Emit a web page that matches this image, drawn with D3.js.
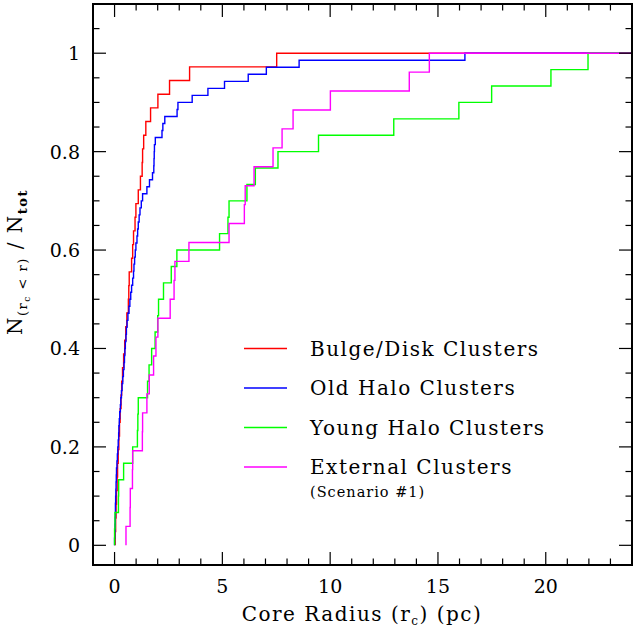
<!DOCTYPE html>
<html>
<head>
<meta charset="utf-8">
<script src="https://cdn.jsdelivr.net/npm/d3@7"></script>
<style>
  body { margin: 0; background: #fff; }
  text { font-family: "DejaVu Serif", serif; fill: #000; }
</style>
</head>
<body>
<div id="chart"></div>
<script>
    // Sorted core radii (pc) for each cluster group
    const bulgeDisk = [0.03, 0.05, 0.07, 0.09, 0.12, 0.14, 0.17, 0.20, 0.23, 0.26,
        0.30, 0.33, 0.37, 0.42, 0.47, 0.52, 0.57, 0.64, 0.66, 0.68,
        0.79, 0.84, 0.88, 0.95, 0.99, 1.10, 1.20, 1.28, 1.30, 1.35,
        1.45, 1.67, 2.01, 2.55, 3.48, 7.52];
    const oldHalo = [0.00, 0.01, 0.02, 0.03, 0.04, 0.04, 0.05, 0.06, 0.07, 0.08,
        0.09, 0.11, 0.13, 0.15, 0.17, 0.19, 0.20, 0.22, 0.24, 0.27,
        0.29, 0.32, 0.35, 0.38, 0.41, 0.44, 0.46, 0.48, 0.50, 0.53,
        0.55, 0.58, 0.62, 0.67, 0.71, 0.75, 0.79, 0.84, 0.88, 0.90,
        0.93, 0.96, 0.99, 1.04, 1.07, 1.10, 1.14, 1.18, 1.24, 1.30,
        1.50, 1.62, 1.76, 1.82, 1.83, 1.84, 1.85, 1.89, 2.20, 2.24,
        2.33, 2.90, 2.94, 3.60, 4.33, 5.10, 6.20, 7.04, 8.56, 16.25];
    const youngHalo = [0.00, 0.02, 0.18, 0.19, 0.42, 0.84, 1.06, 1.08, 1.10, 1.53,
        1.60, 1.72, 1.88, 2.00, 2.04, 2.27, 2.63, 2.89, 4.87, 5.26,
        5.31, 6.14, 6.53, 7.58, 9.46, 12.95, 15.97, 17.49, 20.24, 21.96];
    const external = [0.53, 0.72, 0.73, 0.83, 0.84, 1.29, 1.30, 1.50, 1.61, 1.81,
        1.92, 2.01, 2.58, 2.76, 2.80, 3.45, 5.31, 6.02, 6.06, 6.47,
        7.35, 7.77, 8.28, 10.01, 13.67, 14.60];

    const groupNames = ["Bulge/Disk Clusters", "Old Halo Clusters", "Young Halo Clusters", "External Clusters"];
    const groupColors = ["#ff0000", "#0000ff", "#00ff00", "#ff00ff"];
    const groups = [bulgeDisk, oldHalo, youngHalo, external];

    const xTicks = [0, 5, 10, 15, 20];
    const yTicks = [0, 0.2, 0.4, 0.6, 0.8, 1];

    const W = 633, H = 630;
    const box = {left: 93, right: 632, top: 4, bottom: 565};

    const svg = d3.select("#chart").append("svg")
        .attr("width", W).attr("height", H);

    const x = d3.scaleLinear().domain([-1, 24]).range([box.left, box.right]);
    const y = d3.scaleLinear().domain([-0.04, 1.1]).range([box.bottom, box.top]);

    svg.append("clipPath").attr("id", "plot")
        .append("rect").attr("x", box.left).attr("y", box.top)
        .attr("width", box.right - box.left).attr("height", box.bottom - box.top);

    // cumulative step curves
    const line = d3.line()
        .x(d => x(d[0]))
        .y(d => y(d[1]))
        .curve(d3.curveStepAfter);

    groups.forEach((vals, k) => {
        const n = vals.length;
        const pts = [[vals[0], 0]];
        vals.forEach((v, i) => pts.push([v, (i + 1) / n]));
        pts.push([24, 1]);
        svg.append("path")
            .attr("clip-path", "url(#plot)")
            .attr("d", line(pts))
            .attr("fill", "none")
            .attr("stroke", groupColors[k])
            .attr("stroke-width", 1.4);
    });

    // frame with inward ticks on all four sides
    const g = svg.append("g").attr("stroke", "#000").attr("fill", "none");
    d3.range(-1, 25).forEach(v => {
        const len = v % 5 === 0 ? 13 : 6.5;
        g.append("line").attr("x1", x(v)).attr("x2", x(v)).attr("y1", box.bottom).attr("y2", box.bottom - len).attr("stroke-width", 1.2);
        g.append("line").attr("x1", x(v)).attr("x2", x(v)).attr("y1", box.top).attr("y2", box.top + len).attr("stroke-width", 1.2);
    });
    d3.range(0, 23).map(i => i * 0.05).forEach((v, i) => {
        const len = i % 4 === 0 ? 13 : 6.5;
        g.append("line").attr("y1", y(v)).attr("y2", y(v)).attr("x1", box.left).attr("x2", box.left + len).attr("stroke-width", 1.2);
        g.append("line").attr("y1", y(v)).attr("y2", y(v)).attr("x1", box.right).attr("x2", box.right - len).attr("stroke-width", 1.2);
    });
    g.append("rect").attr("x", box.left).attr("y", box.top)
        .attr("width", box.right - box.left).attr("height", box.bottom - box.top)
        .attr("stroke-width", 2);

    // tick labels
    svg.selectAll(".xl").data(xTicks).enter().append("text")
        .attr("x", d => x(d)).attr("y", 593)
        .attr("text-anchor", "middle").attr("font-size", 19)
        .text(d => d);
    svg.selectAll(".yl").data(yTicks).enter().append("text")
        .attr("x", 80).attr("y", d => y(d) + 7)
        .attr("text-anchor", "end").attr("font-size", 19)
        .text(d => d);

    // axis titles
    const xt = svg.append("text").attr("x", 362).attr("y", 621)
        .attr("text-anchor", "middle").attr("font-size", 20)
        .attr("letter-spacing", 1.5);
    xt.append("tspan").text("Core Radius (r");
    xt.append("tspan").attr("font-size", 12).attr("dy", 4).text("c");
    xt.append("tspan").attr("dy", -4).text(") (pc)");

    const yt = svg.append("text")
        .attr("transform", "translate(22,335) rotate(-90)")
        .attr("font-size", 20).attr("letter-spacing", 1.5);
    yt.append("tspan").text("N");
    yt.append("tspan").attr("font-size", 13).attr("dy", 5).text("(r");
    yt.append("tspan").attr("font-size", 9).attr("dy", 3).text("c");
    yt.append("tspan").attr("font-size", 13).attr("dy", -3).text(" < r)");
    yt.append("tspan").attr("dy", -5).text(" / N");
    yt.append("tspan").attr("font-size", 13).attr("dy", 5).attr("font-weight", "bold").text("tot");

    // legend
    const legendY = [348.5, 388, 427.5, 467];
    groupNames.forEach((name, k) => {
        svg.append("line")
            .attr("x1", 244).attr("x2", 287)
            .attr("y1", legendY[k]).attr("y2", legendY[k])
            .attr("stroke", groupColors[k]).attr("stroke-width", 1.4);
        svg.append("text").attr("x", 310).attr("y", legendY[k] + 7)
            .attr("font-size", 20).attr("letter-spacing", 1.5)
            .text(name);
    });
    svg.append("text").attr("x", 310).attr("y", 497)
        .attr("font-size", 14.5).attr("letter-spacing", 1)
        .text("(Scenario #1)");
</script>
</body>
</html>
